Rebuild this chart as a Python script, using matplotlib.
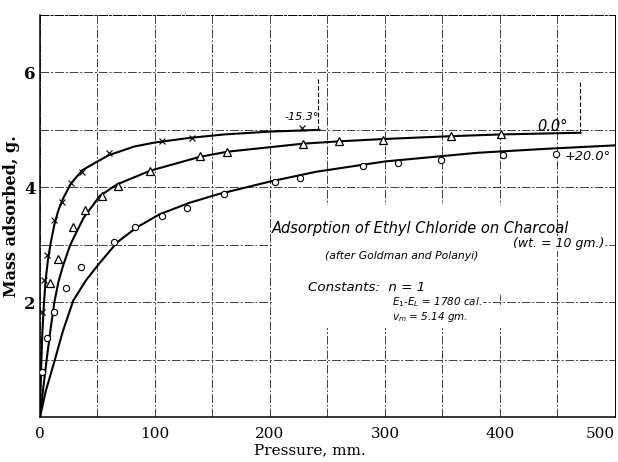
import numpy as np
import matplotlib
matplotlib.use("Agg")
import matplotlib.pyplot as plt
from matplotlib.patches import Rectangle

# ---- data ----
# -15.3 deg (crosses)
p_cold = [2.0, 3.5, 5.8, 12.0, 19.4, 27.2, 36.8, 60, 106, 132, 227.5]
m_cold = [1.82, 2.39, 2.82, 3.43, 3.74, 4.08, 4.27, 4.60, 4.80, 4.86, 5.03]
# 0.0 deg (triangles)
p_zero = [8.7, 15.5, 28.4, 39.5, 54, 68, 95.7, 139, 163, 229, 260, 298, 357, 400.6]
m_zero = [2.33, 2.75, 3.30, 3.60, 3.84, 4.03, 4.29, 4.54, 4.62, 4.76, 4.80, 4.83, 4.89, 4.93]
# +20.0 deg (circles)
p_warm = [2.1, 6.0, 12.5, 22.8, 36, 64.5, 82.6, 106, 128, 160, 204, 226, 281, 311, 349, 403, 449]
m_warm = [0.79, 1.38, 1.82, 2.25, 2.62, 3.05, 3.30, 3.50, 3.64, 3.88, 4.09, 4.16, 4.37, 4.42, 4.47, 4.57, 4.58]

# theoretical curves, traced
cp_cold = [0, 1, 2, 3.5, 5, 7, 9.5, 12.5, 16, 20, 27, 37, 50, 60, 82, 100, 130, 160, 200, 243]
cm_cold = [0, 0.85, 1.45, 2.0, 2.4, 2.75, 3.05, 3.35, 3.6, 3.8, 4.07, 4.3, 4.45, 4.56, 4.71, 4.78, 4.86, 4.92, 4.97, 5.0]
cp_zero = [0, 3, 5.8, 9, 12.5, 16, 20, 26, 30, 38, 52, 67, 96, 139, 163, 229, 260, 298, 357, 400, 470]
cm_zero = [0, 0.53, 1.0, 1.5, 2.0, 2.35, 2.63, 2.98, 3.15, 3.47, 3.85, 4.05, 4.29, 4.53, 4.62, 4.76, 4.80, 4.84, 4.89, 4.92, 4.95]
cp_warm = [0, 5, 12, 20, 29, 40, 51, 67, 84, 104, 130, 155, 200, 240, 300, 380, 440, 500]
cm_warm = [0, 0.45, 0.93, 1.5, 2.03, 2.38, 2.66, 3.04, 3.30, 3.53, 3.73, 3.88, 4.1, 4.27, 4.45, 4.6, 4.67, 4.73]

xticks = [0, 100, 200, 300, 400, 500]
yticks = [2, 4, 6]
#----------------------------------------------------

fig = plt.figure(figsize=(6.18, 4.62), dpi=100)
ax = fig.add_axes([0.0647, 0.0974, 0.9304, 0.8701])

ax.set_xlim(0, 500)
ax.set_ylim(0, 7)
ax.set_xticks(xticks)
ax.set_xticks(np.arange(50, 500, 100), minor=True)
ax.set_yticks(yticks)
ax.set_yticks([1, 3, 5], minor=True)
ax.set_yticklabels([str(v) for v in yticks], fontsize=12, fontweight="bold", family="DejaVu Serif")
xl = ax.set_xticklabels([str(v) for v in xticks], fontsize=11, family="DejaVu Serif")
xl[-1].set_ha("right")
ax.tick_params(which="both", length=0)
ax.tick_params(axis="y", pad=3)
ax.tick_params(axis="x", pad=7)
ax.grid(which="both", color="k", lw=0.7, ls=(0, (9, 2, 2, 2)), alpha=0.75)
ax.set_axisbelow(True)

for s in ["left", "bottom"]:
    ax.spines[s].set_linewidth(1.1)
for s in ["top", "right"]:
    ax.spines[s].set_linewidth(0.7)
ax.spines["top"].set_linestyle((0, (9, 2, 2, 2)))

# blank area behind the lettering
ax.add_patch(Rectangle((202, 2.12), 245, 1.58, facecolor="white", edgecolor="none", zorder=1))
ax.add_patch(Rectangle((202, 1.55), 183, 0.6, facecolor="white", edgecolor="none", zorder=1))
ax.add_patch(Rectangle((380, 1.55), 67, 0.4, facecolor="white", edgecolor="none", zorder=1))

ax.plot(cp_cold, cm_cold, color="k", lw=1.5, zorder=2)
ax.plot(cp_zero, cm_zero, color="k", lw=1.5, zorder=2)
ax.plot(cp_warm, cm_warm, color="k", lw=1.5, zorder=2)

ax.plot(p_cold, m_cold, "x", color="k", ms=5, mew=0.8, zorder=3)
ax.plot(p_zero, m_zero, "^", mfc="white", mec="k", ms=6, mew=0.9, zorder=3)
ax.plot(p_warm, m_warm, "o", mfc="white", mec="k", ms=4.5, mew=0.8, zorder=3)

# leader lines for temperature labels
ax.plot([242, 242], [5.0, 5.88], color="k", lw=0.8, ls=(0, (4, 2)))
ax.plot([470, 470], [4.95, 5.84], color="k", lw=0.8, ls=(0, (4, 2)))

it = dict(style="italic", family="DejaVu Sans", color="k", zorder=4)
ax.text(228, 5.22, "-15.3°", ha="center", va="center", fontsize=8, **it)
ax.text(446, 5.06, "0.0°", ha="center", va="center", fontsize=10.5, **it)
ax.text(476.5, 4.54, "+20.0°", ha="center", va="center", fontsize=9.3, **it)

ax.text(201.7, 3.28, "Adsorption of Ethyl Chloride on Charcoal", ha="left", va="center", fontsize=10.5, **it)
ax.text(411, 3.02, "(wt. = 10 gm.)", ha="left", va="center", fontsize=9,
        bbox=dict(facecolor="white", edgecolor="none", pad=1), **it)
ax.text(247.8, 2.81, "(after Goldman and Polanyi)", ha="left", va="center", fontsize=7.8, **it)
ax.text(233, 2.26, "Constants:  n = 1", ha="left", va="center", fontsize=9.7, **it)
ax.text(306, 2.0, "$E_1$-$E_L$ = 1780 cal.", ha="left", va="center", fontsize=7.5, **it)
ax.text(306, 1.74, "$v_m$ = 5.14 gm.", ha="left", va="center", fontsize=7.5, **it)

ax.set_ylabel("Mass adsorbed, g.", fontsize=11.5, fontweight="bold", family="DejaVu Serif", labelpad=3)
ax.set_xlabel("Pressure, mm.", fontsize=11, family="DejaVu Serif", labelpad=2)
ax.xaxis.label.set_x(0.47)

fig.savefig("out.png", dpi=100)
